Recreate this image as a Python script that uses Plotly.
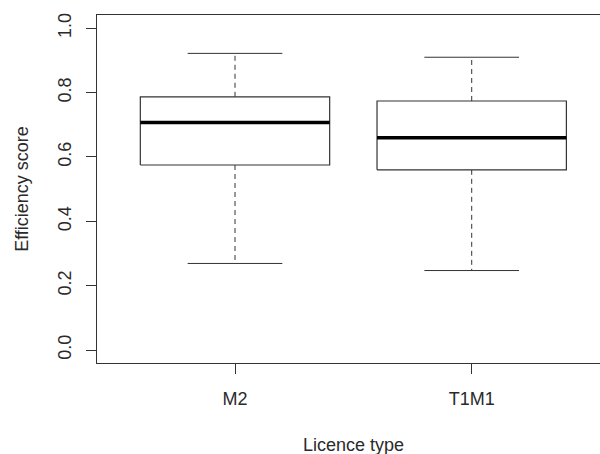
import plotly.graph_objects as go

categories = ["M2", "T1M1"]
lower_whisker = [0.269, 0.247]
q1 = [0.575, 0.560]
median = [0.707, 0.660]
q3 = [0.787, 0.774]
upper_whisker = [0.922, 0.910]

y_ticks = [0.0, 0.2, 0.4, 0.6, 0.8, 1.0]
y_tick_labels = ["0.0", "0.2", "0.4", "0.6", "0.8", "1.0"]

box_half = 0.4
cap_half = 0.2
FONT = "Liberation Sans, Arial, sans-serif"
LINE = "#333333"
TEXT = "#2a2a2a"

fig = go.Figure()
for i, cat in enumerate(categories):
    x = i + 1
    # dashed whiskers
    fig.add_trace(go.Scatter(x=[x, x, None, x, x],
                             y=[q3[i], upper_whisker[i], None, q1[i], lower_whisker[i]],
                             mode="lines", line=dict(color=LINE, width=1, dash="5px,4px"),
                             hoverinfo="skip", showlegend=False))
    # caps
    fig.add_trace(go.Scatter(x=[x - cap_half, x + cap_half, None, x - cap_half, x + cap_half],
                             y=[upper_whisker[i], upper_whisker[i], None, lower_whisker[i], lower_whisker[i]],
                             mode="lines", line=dict(color=LINE, width=1),
                             hoverinfo="skip", showlegend=False))
    # box
    fig.add_trace(go.Scatter(x=[x - box_half, x + box_half, x + box_half, x - box_half, x - box_half],
                             y=[q1[i], q1[i], q3[i], q3[i], q1[i]],
                             mode="lines", fill="toself", fillcolor="white",
                             line=dict(color=LINE, width=1.2),
                             hoverinfo="skip", showlegend=False))
    # median
    fig.add_trace(go.Scatter(x=[x - box_half, x + box_half], y=[median[i], median[i]],
                             mode="lines", line=dict(color="black", width=3.5),
                             hoverinfo="skip", showlegend=False))

fig.update_layout(
    width=600, height=454,
    margin=dict(l=97, r=0, t=15, b=91, autoexpand=False),
    paper_bgcolor="white", plot_bgcolor="white",
    font=dict(family=FONT, size=18, color=TEXT),
    showlegend=False,
    annotations=[dict(text="Licence type", x=1.5, xref="x", y=0, yref="paper",
                      yanchor="middle", xanchor="center", yshift=-82, showarrow=False,
                      font=dict(size=18, color=TEXT))],
)
fig.update_xaxes(
    range=[0.417, 2.542], tickmode="array", tickvals=[1, 2], ticktext=categories,
    showgrid=False, zeroline=False, showline=True, mirror=True, linecolor=LINE, linewidth=1,
    ticks="outside", ticklen=10, tickcolor=LINE, tickwidth=1, automargin=False,
    tickfont=dict(size=18), ticklabelstandoff=9,
)
fig.update_yaxes(
    range=[-0.0404, 1.0413], tickmode="array", tickvals=y_ticks, ticktext=y_tick_labels,
    showgrid=False, zeroline=False, showline=True, mirror=False, linecolor=LINE, linewidth=1,
    ticks="outside", ticklen=10, tickcolor=LINE, tickwidth=1, automargin=False,
    tickangle=-90, tickfont=dict(size=18), ticklabelstandoff=8,
    title=dict(text="Efficiency score", font=dict(size=18), standoff=21),
)
fig.write_html("out.html", config={"displayModeBar": False},
               post_script="document.body.style.margin='0';document.body.style.overflow='hidden';")
